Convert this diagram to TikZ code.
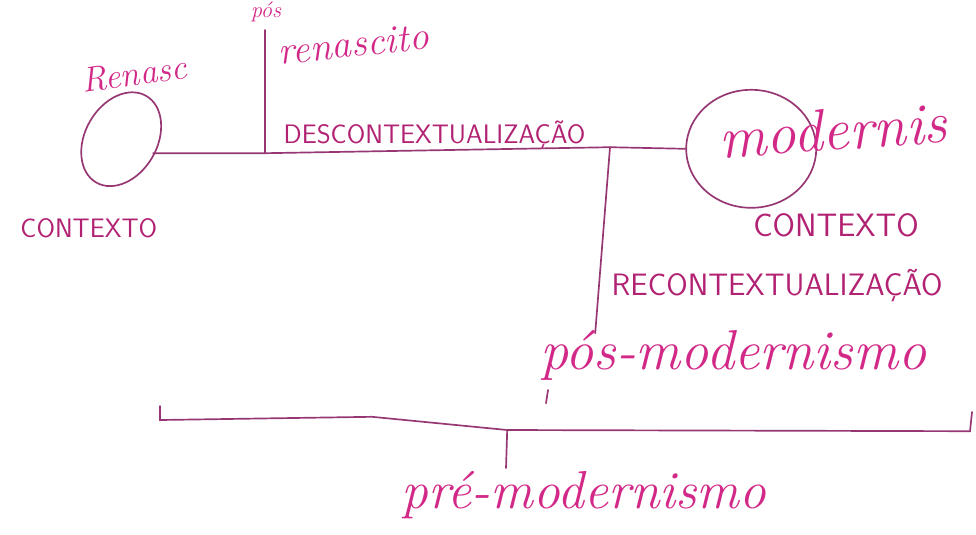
\documentclass[tikz,border=0pt]{standalone}
\usepackage{fontspec}
\usetikzlibrary{positioning, shapes.geometric}
\definecolor{inkpink}{RGB}{210,40,135}
\definecolor{inkline}{RGB}{150,55,115}

\begin{document}
\begin{tikzpicture}[
    pen/.style={draw=inkline, line width=1.2pt, line cap=round},
    ring/.style={draw=inkline, line width=1.2pt, ellipse, inner sep=0pt},
    hand/.style={text=inkpink, inner sep=0pt, font=\itshape},
    caps/.style={text=inkpink!85!black, inner sep=1pt}
]
\useasboundingbox (0,0) rectangle (24.4,-13.35);

% ==========================================
% Top line: renasc -> modernis
% ==========================================
\node[ring, minimum width=2.5cm, minimum height=1.8cm, rotate=60] (ringL) at (3.03,-3.48) {};
\node[hand, font=\itshape\fontsize{25}{27}\selectfont, rotate=8] (renasc) at (3.35,-1.85) {Renasc};
\node[caps, font=\sffamily\fontsize{19}{21}\selectfont] (ctxL) at (2.22,-5.7) {CONTEXTO};

\node[ring, minimum width=3.25cm, minimum height=2.95cm] (ringR) at (18.78,-3.72) {};
\node[hand, font=\itshape\fontsize{42}{44}\selectfont, rotate=4] (modernis) at (20.83,-3.25) {modernis};
\node[caps, font=\sffamily\fontsize{23}{25}\selectfont] (ctxR) at (20.9,-5.63) {CONTEXTO};

\coordinate (jPos) at (6.62,-3.83);
\coordinate (jPosTop) at (6.62,-0.75);
\coordinate (jRec) at (15.25,-3.68);
\coordinate (jRecBot) at (14.88,-8.33);

\draw[pen] (ringL.south |- jPos) -- (jPos) -- (jRec) -- (ringR.west);
\draw[pen] (jPos) -- (jPosTop);
\draw[pen] (jRec) -- (jRecBot);

% labels along the branches
\node[hand, font=\itshape\fontsize{16}{18}\selectfont] (pos) at (6.65,-0.3) {pós};
\node[hand, font=\itshape\fontsize{28}{30}\selectfont, rotate=6, anchor=west] (renascito) at (6.95,-1.3) {renascito};
\node[caps, font=\sffamily\fontsize{19}{21}\selectfont, anchor=west] (descon) at (7.05,-3.38) {DESCONTEXTUALIZAÇÃO};
\node[caps, font=\sffamily\fontsize{22}{24}\selectfont, anchor=west] (recon) at (15.25,-7.15) {RECONTEXTUALIZAÇÃO};
\node[hand, font=\itshape\fontsize{40}{42}\selectfont, anchor=west] (posmod) at (13.5,-8.88) {pós-modernismo};

% ==========================================
% Bottom bracket: pre-modernismo
% ==========================================
\coordinate (bLtop) at (4.0,-10.15);
\coordinate (bL) at (4.0,-10.5);
\coordinate (bK) at (9.3,-10.42);
\coordinate (bM) at (12.68,-10.75);
\coordinate (bR) at (24.25,-10.78);
\coordinate (bRtop) at (24.3,-10.3);
\coordinate (bMbot) at (12.65,-11.7);
\coordinate (mark) at (13.7,-9.75);
\coordinate (markEnd) at (13.65,-10.08);
\draw[pen] (bLtop) -- (bL) -- (bK) -- (bM) -- (bR) -- (bRtop);
\draw[pen] (bM) -- (bMbot);
\draw[pen] (mark) -- (markEnd);
\node[hand, font=\itshape\fontsize{38}{40}\selectfont] (premod) at (14.6,-12.38) {pré-modernismo};

\end{tikzpicture}
\end{document}
